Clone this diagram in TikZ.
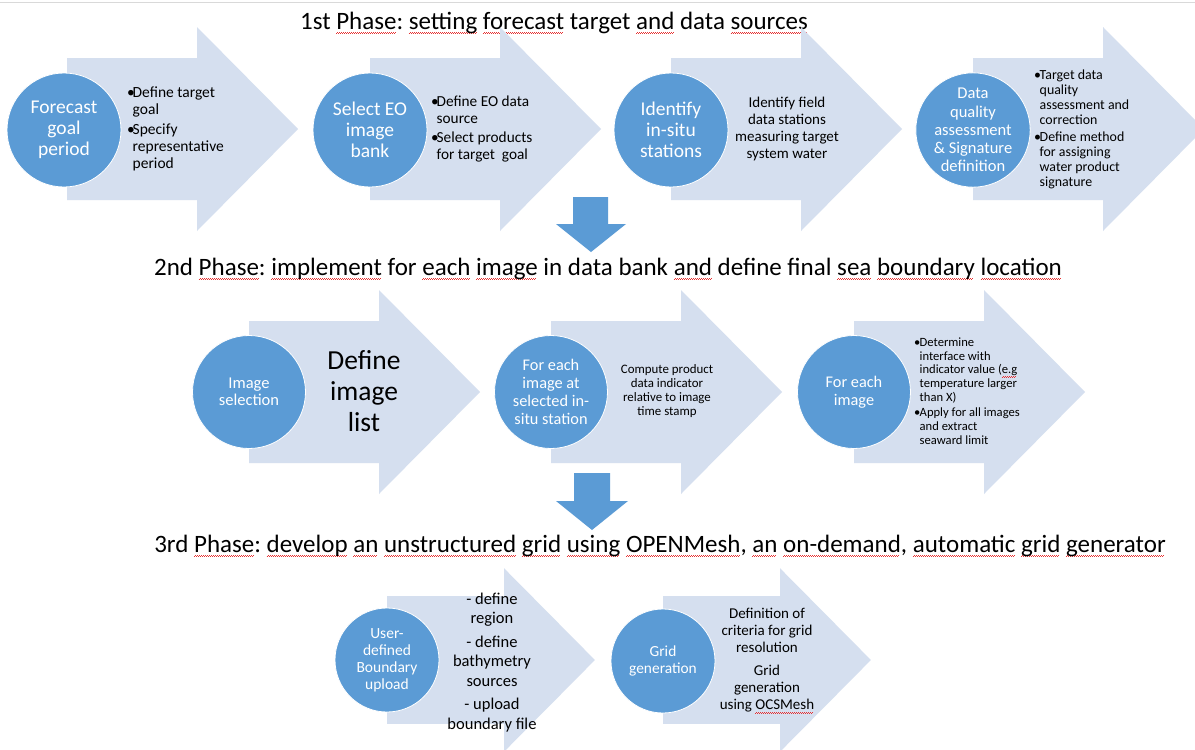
\documentclass[tikz,border=0pt]{standalone}
\usepackage{fontspec}
\setmainfont{Carlito}
\frenchspacing
\definecolor{arrowfill}{RGB}{213,223,239}
\definecolor{circblue}{RGB}{91,155,213}
\definecolor{spellred}{RGB}{230,50,50}
\newcommand\sq[1]{\setbox0=\hbox{#1}\rlap{\textcolor{spellred}{\leaders\hbox to 2pt{\rule[-3.8pt]{1pt}{0.6pt}\rule[-3.2pt]{1pt}{0.6pt}}\hskip\wd0}}\box0\relax}
\newcommand\bl{\makebox[5.5pt][l]{\textbullet}}
\newcommand\ind{\hspace*{5.5pt}}
% big right arrow: body-left x, centre y, scale
\newcommand\rarrow[3]{%
  \fill[arrowfill] ({#1},{#2-71*#3}) -- ({#1+130*#3},{#2-71*#3}) -- ({#1+130*#3},{#2-102*#3})
    -- ({#1+231*#3},{#2}) -- ({#1+130*#3},{#2+102*#3}) -- ({#1+130*#3},{#2+71*#3})
    -- ({#1},{#2+71*#3}) -- cycle;}
% blue down arrow: shaft left, shaft right, top, head start, head left, head right, tip y
\newcommand\darrow[7]{%
  \fill[circblue] (#1,#3) -- (#2,#3) -- (#2,#4) -- (#6,#4) -- ({(#5+#6)/2},#7) -- (#5,#4) -- (#1,#4) -- cycle;}
\begin{document}
\begin{tikzpicture}[x=1pt,y=-1pt,
  circ/.style={circle, fill=circblue, draw=white, line width=0.8pt, text=white, inner sep=0pt, align=center, minimum size=#1},
  txt/.style={inner sep=0pt, align=left, text=black},
  ctxt/.style={inner sep=0pt, align=center, text=black},
  title/.style={inner sep=0pt, font=\fontsize{25}{29}\selectfont, text=black}]
\useasboundingbox (0,0) rectangle (1195,750);
\fill[white] (0,0) rectangle (1195,750);
\draw[black!15, line width=1.5pt] (0,2.5) -- (1195,2.5);

% titles
\node[title] (ph1) at (554,23) {1st \sq{Phase}: \sq{setting} \sq{forecast} target \sq{and} data \sq{sources}};
\node[title] (ph2) at (608,269) {2nd \sq{Phase}: \sq{implement} for \sq{each} \sq{image} in data bank \sq{and} define final \sq{sea} \sq{boundary} \sq{location}};
\node[title] (ph3) at (660,546) {3rd \sq{Phase}: \sq{develop} \sq{an} \sq{unstructured} \sq{grid} \sq{using} \sq{OPENMesh}, \sq{an} \sq{on-demand}, \sq{automatic} \sq{grid} \sq{generator}};

% row 1 arrows
\rarrow{67}{129}{1}
\rarrow{370}{129}{1}
\rarrow{671}{129}{1}
\rarrow{973}{129}{1}
% row 2 arrows
\rarrow{249}{392}{1}
\rarrow{551}{392}{1}
\rarrow{854}{392}{1}
% row 3 arrows
\rarrow{387}{660}{0.9}
\rarrow{663}{660}{0.9}

% down arrows
\darrow{573}{608}{197}{224}{556}{626}{252}
\darrow{574}{610}{473}{501}{556}{628}{530}

% row 1
\node[circ=114, font=\fontsize{19.5}{21}\selectfont] (c1) at (64,130) {Forecast\\goal\\period};
\node[txt, anchor=west, font=\fontsize{15.5}{17.3}\selectfont] (t1) at (127,129) {\bl Define target\\\ind goal\\[2pt]\bl Specify\\\ind representative\\\ind period};
\node[circ=114, font=\fontsize{19.5}{21}\selectfont] (c2) at (370,130) {Select EO\\image\\bank};
\node[txt, anchor=west, font=\fontsize{15.3}{17}\selectfont] (t2) at (431,129) {\bl Define EO data\\\ind source\\[2pt]\bl Select products\\\ind for target\ \ goal};
\node[circ=114, font=\fontsize{19.5}{21}\selectfont] (c3) at (671,130) {Identify\\in-situ\\stations};
\node[ctxt, font=\fontsize{15}{17.3}\selectfont] (t3) at (787,129) {Identify field\\data stations\\measuring target\\system water};
\node[circ=114, font=\fontsize{16.5}{18.2}\selectfont] (c4) at (973,130) {Data\\quality\\assessment\\\& Signature\\definition};
\node[txt, anchor=west, font=\fontsize{13.9}{15}\selectfont] (t4) at (1034,129.5) {\bl Target data\\\ind quality\\\ind assessment and\\\ind correction\\[1.5pt]\bl Define method\\\ind for assigning\\\ind water product\\\ind signature};

% row 2
\node[circ=113, font=\fontsize{16.5}{17.5}\selectfont] (c5) at (249,392) {Image\\selection};
\node[ctxt, font=\fontsize{27.5}{31}\selectfont] (t5) at (364,391) {Define\\image\\list};
\node[circ=113, font=\fontsize{16.3}{18}\selectfont] (c6) at (551,392) {For each\\image at\\selected in-\\situ station};
\node[ctxt, font=\fontsize{12.9}{14}\selectfont] (t6) at (667,391) {Compute product\\data indicator\\relative to image\\time stamp};
\node[circ=113, font=\fontsize{16.3}{18}\selectfont] (c7) at (854,392) {For each\\image};
\node[txt, anchor=west, font=\fontsize{12.6}{13.7}\selectfont] (t7) at (914,391) {\bl Determine\\\ind interface with\\\ind indicator value (\sq{e.g}\\\ind temperature larger\\\ind than X)\\[2pt]\bl Apply for all images\\\ind and extract\\\ind seaward limit};

% row 3
\node[circ=104, font=\fontsize{15.5}{17}\selectfont] (c8) at (387,660) {User-\\defined\\Boundary\\upload};
\node[ctxt, font=\fontsize{16.5}{19.5}\selectfont] (t8) at (492,662.5) {- define\\region\\[4pt]- define\\bathymetry\\sources\\[4pt]- upload\\boundary file};
\node[circ=104, font=\fontsize{15.4}{17}\selectfont] (c9) at (663,661) {Grid\\generation};
\node[ctxt, font=\fontsize{15}{17}\selectfont] (t9) at (767,661) {Definition of\\criteria for grid\\resolution\\[6pt]Grid\\generation\\using \sq{OCSMesh}};
\end{tikzpicture}
\end{document}
